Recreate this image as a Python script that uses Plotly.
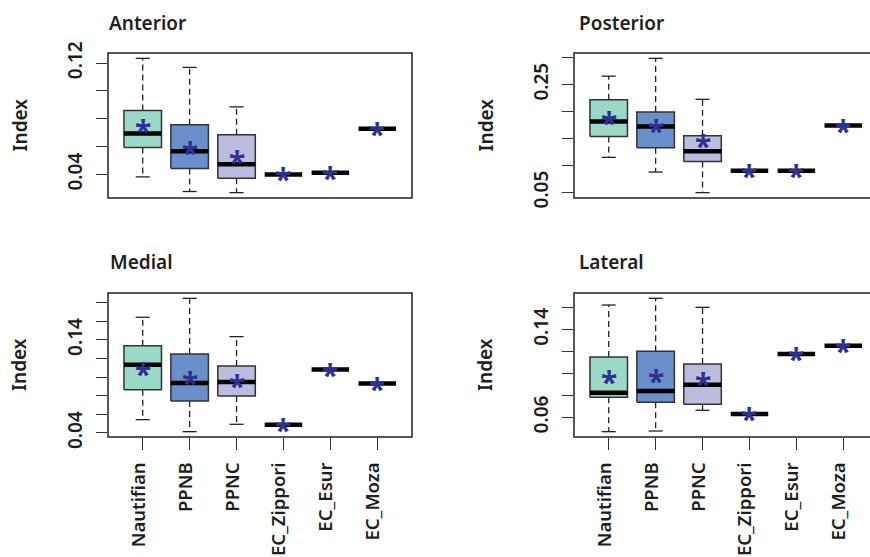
import plotly.graph_objects as go

categories = ["Nautifian", "PPNB", "PPNC", "EC_Zippori", "EC_Esur", "EC_Moza"]
fills = ["#9AD8C8", "#6B8FCA", "#BBBDDE", "#FFFFFF", "#FFFFFF", "#FFFFFF"]

# Anterior
anterior_lower = [0.0383, 0.0278, 0.0270, 0.0401, 0.0412, 0.0729]
anterior_q1 = [0.0594, 0.0444, 0.0374, 0.0401, 0.0412, 0.0729]
anterior_median = [0.0695, 0.0567, 0.0473, 0.0401, 0.0412, 0.0729]
anterior_q3 = [0.0859, 0.0758, 0.0686, 0.0401, 0.0412, 0.0729]
anterior_upper = [0.1234, 0.1169, 0.0886, 0.0401, 0.0412, 0.0729]
anterior_mean = [0.0746, 0.0594, 0.0528, 0.0401, 0.0412, 0.0729]
anterior_ticks = [0.04, 0.06, 0.08, 0.10, 0.12]
anterior_ticklabels = ["0.04", "", "", "", "0.12"]

# Posterior
posterior_lower = [0.1150, 0.0877, 0.0496, 0.0901, 0.0901, 0.1740]
posterior_q1 = [0.1535, 0.1330, 0.1075, 0.0901, 0.0901, 0.1740]
posterior_median = [0.1815, 0.1722, 0.1261, 0.0901, 0.0901, 0.1740]
posterior_q3 = [0.2220, 0.1989, 0.1549, 0.0901, 0.0901, 0.1740]
posterior_upper = [0.2655, 0.2985, 0.2226, 0.0901, 0.0901, 0.1740]
posterior_mean = [0.1884, 0.1728, 0.1460, 0.0901, 0.0901, 0.1740]
posterior_ticks = [0.05, 0.10, 0.15, 0.20, 0.25, 0.30]
posterior_ticklabels = ["0.05", "", "", "", "0.25", ""]

# Medial
medial_lower = [0.0543, 0.0414, 0.0493, 0.0489, 0.1080, 0.0930]
medial_q1 = [0.0865, 0.0743, 0.0797, 0.0489, 0.1080, 0.0930]
medial_median = [0.1133, 0.0937, 0.0947, 0.0489, 0.1080, 0.0930]
medial_q3 = [0.1337, 0.1248, 0.1119, 0.0489, 0.1080, 0.0930]
medial_upper = [0.1642, 0.1845, 0.1434, 0.0489, 0.1080, 0.0930]
medial_mean = [0.1087, 0.0987, 0.0962, 0.0489, 0.1080, 0.0930]
medial_ticks = [0.04, 0.06, 0.08, 0.10, 0.12, 0.14, 0.16, 0.18]
medial_ticklabels = ["0.04", "", "", "", "", "0.14", "", ""]

# Lateral
lateral_lower = [0.0469, 0.0475, 0.0664, 0.0630, 0.1178, 0.1254]
lateral_q1 = [0.0783, 0.0737, 0.0719, 0.0630, 0.1178, 0.1254]
lateral_median = [0.0825, 0.0840, 0.0898, 0.0630, 0.1178, 0.1254]
lateral_q3 = [0.1150, 0.1202, 0.1087, 0.0630, 0.1178, 0.1254]
lateral_upper = [0.1625, 0.1686, 0.1604, 0.0630, 0.1178, 0.1254]
lateral_mean = [0.0965, 0.0974, 0.0950, 0.0630, 0.1178, 0.1254]
lateral_ticks = [0.06, 0.08, 0.10, 0.12, 0.14, 0.16]
lateral_ticklabels = ["0.06", "", "", "", "0.14", ""]

panels = [
    ("Anterior", anterior_lower, anterior_q1, anterior_median, anterior_q3, anterior_upper, anterior_mean, anterior_ticks, anterior_ticklabels),
    ("Posterior", posterior_lower, posterior_q1, posterior_median, posterior_q3, posterior_upper, posterior_mean, posterior_ticks, posterior_ticklabels),
    ("Medial", medial_lower, medial_q1, medial_median, medial_q3, medial_upper, medial_mean, medial_ticks, medial_ticklabels),
    ("Lateral", lateral_lower, lateral_q1, lateral_median, lateral_q3, lateral_upper, lateral_mean, lateral_ticks, lateral_ticklabels),
]

W, H = 870, 557
FONT = "Noto Sans"
TXT = "#1e1e1e"
STAR = "#2E3192"
BOXLINE = "#333333"

# pixel layout of the plot regions (left, right, top, bottom)
regions = [(108, 412, 53, 198), (574, 878, 53, 198), (108, 412, 293, 437), (574, 878, 293, 437)]
title_pos = [(107, 23), (577, 23), (108, 262), (577, 262)]
index_x = [19, 485, 19, 485]

fig = go.Figure()
layout = dict(width=W, height=H, margin=dict(l=0, r=0, t=0, b=0, autoexpand=False), autosize=False,
              plot_bgcolor="white", paper_bgcolor="white", showlegend=False)
annotations = []
shapes = []

half = 0.4
cap = 0.15
pos = list(range(1, len(categories) + 1))

for k, (name, lo, q1, med, q3, up, mn, ticks, ticklabels) in enumerate(panels):
    ax = "" if k == 0 else str(k + 1)
    xa, ya = "x" + ax, "y" + ax
    L, R, T, B = regions[k]
    unit = (412 - 108) / 6.48
    x0 = 0.26
    x1 = x0 + (min(R, W) - L) / unit
    dom_x = [L / W, min(R, W) / W]
    dom_y = [(H - B) / H, (H - T) / H]
    dmin, dmax = min(lo), max(up)
    pad = 0.04 * (dmax - dmin)
    bottom = k >= 2
    layout["xaxis" + ax] = dict(domain=dom_x, range=[x0, x1], anchor=ya, automargin=False,
                               tickmode="array", tickvals=pos if bottom else [],
                               ticktext=categories if bottom else [],
                               ticks="outside" if bottom else "", ticklen=12, tickwidth=1.3,
                               tickcolor="#333", tickangle=-90, showgrid=False, zeroline=False,
                               showline=False, ticklabelstandoff=5, ticklabelshift=-4,
                               tickfont=dict(family=FONT, size=18.5, color=TXT, weight=600))
    layout["yaxis" + ax] = dict(domain=dom_y, range=[dmin - pad, dmax + pad], anchor=xa,
                               automargin=False,
                               tickmode="array", tickvals=ticks, ticktext=ticklabels,
                               ticks="outside", ticklen=11, tickwidth=1.3, tickcolor="#333",
                               tickangle=-90, showgrid=False, zeroline=False, showline=False,
                               ticklabelstandoff=6,
                               tickfont=dict(family=FONT, size=19, color=TXT, weight=600))
    # frame
    shapes.append(dict(type="rect", xref=xa + " domain", yref=ya + " domain",
                       x0=0, x1=(R - L) / (min(R, W) - L), y0=0, y1=1,
                       line=dict(color="#222", width=1.5), layer="above"))

    # whiskers (dashed)
    wx, wy, cx, cy = [], [], [], []
    for i, p in enumerate(pos):
        if q3[i] > q1[i]:
            wx += [p, p, None, p, p, None]
            wy += [q3[i], up[i], None, q1[i], lo[i], None]
            cx += [p - cap, p + cap, None, p - cap, p + cap, None]
            cy += [up[i], up[i], None, lo[i], lo[i], None]
    fig.add_trace(go.Scatter(x=wx, y=wy, mode="lines", xaxis=xa, yaxis=ya,
                             line=dict(color="#222", width=1.3, dash="6px,4px"), hoverinfo="skip"))
    fig.add_trace(go.Scatter(x=cx, y=cy, mode="lines", xaxis=xa, yaxis=ya,
                             line=dict(color="#222", width=1.3), hoverinfo="skip"))
    # boxes
    for i, p in enumerate(pos):
        if q3[i] > q1[i]:
            fig.add_trace(go.Scatter(x=[p - half, p + half, p + half, p - half, p - half],
                                     y=[q1[i], q1[i], q3[i], q3[i], q1[i]],
                                     mode="lines", fill="toself", fillcolor=fills[i],
                                     xaxis=xa, yaxis=ya,
                                     line=dict(color=BOXLINE, width=1.5), hoverinfo="skip"))
    # medians
    mx, my = [], []
    for i, p in enumerate(pos):
        mx += [p - half, p + half, None]
        my += [med[i], med[i], None]
    fig.add_trace(go.Scatter(x=mx, y=my, mode="lines", xaxis=xa, yaxis=ya,
                             line=dict(color="black", width=4.5), hoverinfo="skip"))
    # means as asterisks
    for i, p in enumerate(pos):
        annotations.append(dict(x=p, y=mn[i], xref=xa, yref=ya, text="*", showarrow=False,
                                yshift=-4.5, font=dict(family=FONT, size=30, color=STAR, weight=700)))
    # title
    tx, ty = title_pos[k]
    annotations.append(dict(x=tx / W, y=(H - ty) / H, xref="paper", yref="paper", text=name,
                            showarrow=False, xanchor="left", yanchor="middle",
                            font=dict(family=FONT, size=19, color=TXT, weight=600)))
    annotations.append(dict(x=index_x[k] / W, y=(H - (T + B) / 2) / H, xref="paper", yref="paper",
                            text="Index", showarrow=False, textangle=-90, xanchor="center",
                            yanchor="middle", font=dict(family=FONT, size=19, color=TXT, weight=600)))

layout["annotations"] = annotations
layout["shapes"] = shapes
fig.update_layout(**layout)
fig.write_html("out.html")
